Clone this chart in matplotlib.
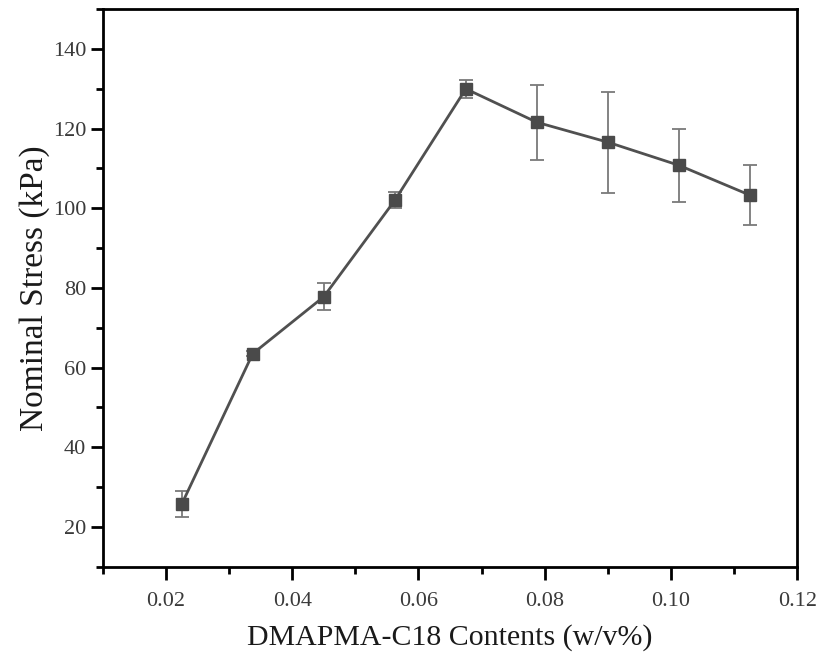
import matplotlib
matplotlib.use("Agg")
import matplotlib.pyplot as plt
from matplotlib.ticker import MultipleLocator

x = [0.0225, 0.03375, 0.045, 0.05625, 0.0675, 0.07875, 0.09, 0.10125, 0.1125]
y = [25.7, 63.5, 77.8, 102.0, 130.0, 121.6, 116.6, 110.8, 103.3]
yerr = [3.3, 0.6, 3.4, 2.0, 2.3, 9.4, 12.7, 9.2, 7.5]

plt.rcParams['font.family'] = ['Liberation Serif', 'DejaVu Serif']

fig = plt.figure(figsize=(8.22, 6.56), dpi=100)
ax = fig.add_axes([0.125, 0.136, 0.845, 0.850])

ax.errorbar(x, y, yerr=yerr, fmt='none', ecolor='#7a7a7a', elinewidth=1.3,
            capsize=5, capthick=1.3, zorder=2)
ax.plot(x, y, color='#505050', lw=2.0, marker='s', markersize=9,
        markerfacecolor='#4a4a4a', markeredgecolor='#4a4a4a', zorder=3)

ax.set_xlim(0.01, 0.12)
ax.set_ylim(10, 150)
ax.xaxis.set_major_locator(MultipleLocator(0.02))
ax.xaxis.set_minor_locator(MultipleLocator(0.01))
ax.yaxis.set_major_locator(MultipleLocator(20))
ax.yaxis.set_minor_locator(MultipleLocator(10))
ax.set_xticks([0.02, 0.04, 0.06, 0.08, 0.10, 0.12])
ax.set_xticklabels(['0.02', '0.04', '0.06', '0.08', '0.10', '0.12'])
ax.set_yticks([20, 40, 60, 80, 100, 120, 140])

for s in ax.spines.values():
    s.set_linewidth(2.0)
ax.tick_params(which='major', direction='out', length=9, width=2, labelsize=16,
               labelcolor='#3a3a3a')
ax.tick_params(axis='x', which='major', pad=9)
ax.tick_params(axis='y', which='major', pad=3)
ax.tick_params(which='minor', direction='out', length=5, width=2)

ax.set_xlabel('DMAPMA-C18 Contents (w/v%)', fontsize=21.5, color='#1a1a1a')
ax.set_ylabel('Nominal Stress (kPa)', fontsize=24, color='#1a1a1a')
ax.xaxis.set_label_coords(0.5, -0.102)
ax.yaxis.set_label_coords(-0.076, 0.5)

fig.savefig('out.png', dpi=100)
